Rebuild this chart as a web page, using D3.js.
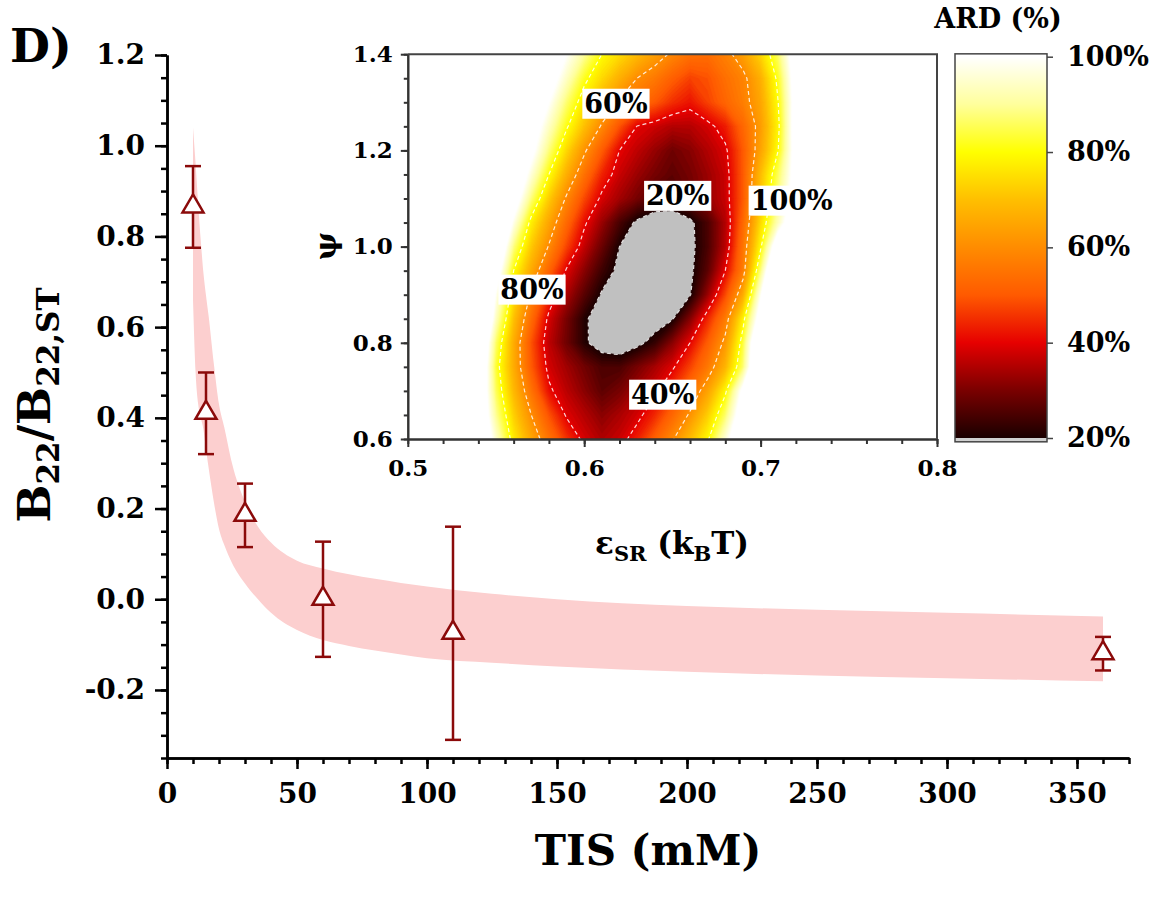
<!DOCTYPE html>
<html><head><meta charset="utf-8">
<script src="https://cdn.jsdelivr.net/npm/d3@7"></script>
<style>
body{margin:0;background:#fff}
svg text{font-family:"DejaVu Serif",serif;font-weight:bold;fill:#000}
</style>
</head><body>
<svg id="c" width="1165" height="901"></svg>
<script>
// ---------------- main panel data ----------------
const tisX   = [10, 15, 30, 60, 110, 360];
const b22    = [0.865, 0.41, 0.185, 0.0, -0.075, -0.12];
const b22Err = [0.09, 0.09, 0.07, 0.127, 0.235, 0.037];

const bandX     = [10,11,12,13,14,15,16,18,20,22,25,30,35,40,50,60,70,80,90,100,125,150,200,250,300,360];
const bandUpper = [1.04,0.96,0.87,0.79,0.72,0.67,0.625,0.52,0.43,0.38,0.30,0.215,0.16,0.125,0.085,0.068,0.055,0.045,0.036,0.028,0.012,0.0,-0.015,-0.023,-0.030,-0.038];
const bandLower = [0.66,0.50,0.43,0.40,0.375,0.33,0.29,0.215,0.155,0.12,0.08,0.035,0.0,-0.03,-0.068,-0.09,-0.103,-0.113,-0.122,-0.13,-0.14,-0.148,-0.16,-0.168,-0.174,-0.181];

const xTicks = [0,50,100,150,200,250,300,350];
const yTicks = [-0.2,0.0,0.2,0.4,0.6,0.8,1.0,1.2];

// ---------------- inset (ARD map) data ----------------
const epsGrid = [0.50,0.51,0.52,0.53,0.54,0.55,0.56,0.57,0.58,0.59,0.60,0.61,0.62,0.63,0.64,0.65,0.66,0.67,0.68,0.69,0.70,0.71,0.72,0.73,0.74,0.75,0.76,0.77,0.78,0.79,0.80];
const psiGrid = [1.40,1.35,1.30,1.25,1.20,1.15,1.10,1.05,1.00,0.95,0.90,0.85,0.80,0.75,0.70,0.65,0.60];
const ardGrid = [
 [150,150,150,150,150,140,130,120,110,100,90,80,74.6,69.2,63.8,58.7,54.5,53.6,57.6,63.8,73.3,86.3,107.4,128,150,150,150,150,150,150,150],
 [150,150,150,150,150,141,129,118,106,94,82,74,67,60,56,51,47,49,54,58,67,82,106,129,150,150,150,150,150,150,150],
 [150,150,150,150,150,137,125,112,100,87,76,67,59,54,50,45,42,47,52,57,65,80,105,130,150,150,150,150,150,150,150],
 [150,150,150,150,146,133,120,107,94,81,70,59,49,39.8,37.5,35.2,35.4,38.1,42.9,52.4,63.1,78.5,105.7,134,150,150,150,150,150,150,150],
 [150,150,150,150,149,134,118.5,103,87.7,73.8,61.3,50.5,40,36.3,32.5,28.8,31.1,35,38.8,50,64.6,80,105,130,150,150,150,150,150,150,150],
 [150,150,150,150,144,128,112,96,80,66.7,54.6,43.8,37.2,33,29.5,27,29.5,33,37.3,50,69.2,85.7,104.8,123.8,142.9,150,150,150,150,150,150],
 [150,150,150,150,144.8,125.7,106.7,87.6,72,58.9,47.8,38.5,33.7,29.5,25.5,24.5,28,32.4,37.1,50,70.9,88.7,106.1,123.5,140.9,150,150,150,150,150,150],
 [150,150,150,150,142,120,97.8,77.5,65,52.9,41.2,32.8,24.8,18.7,15.6,15.5,18.5,25,35,52.5,74,93.1,111.8,130.5,149,150,150,150,150,150,150],
 [150,150,150,150,141,114.7,88,71.5,59.4,47.3,36.7,28.3,20,16.5,13,14.5,18,24.9,35.7,55,78.8,109.2,140,150,150,150,150,150,150,150,150],
 [150,150,150,150,133,106.7,80,65.7,52,39.2,31.4,23.6,18.3,15.2,12,15.2,18.4,26.7,40,56.7,87.3,123.6,150,150,150,150,150,150,150,150,150],
 [150,150,150,150,125.3,98.7,75,58.6,44.3,34.4,26.4,19.3,16,12.7,12.7,16.1,19.5,32.6,47.7,65.7,98.2,134.5,150,150,150,150,150,150,150,150,150],
 [150,150,150,150,126.7,93.3,70,53.3,38.3,29.6,20.9,17,13.7,13.5,16.4,19.4,30.7,43.8,56.3,77.5,105.7,134,150,150,150,150,150,150,150,150,150],
 [150,150,150,148.7,117.5,86.3,66.2,48.8,36.2,28.7,21.1,16.5,15.1,18,22.6,31.3,40,50.5,62,83.4,117.9,150,150,150,150,150,150,150,150,150,150],
 [150,150,150,146.7,114.9,83.2,66.2,50,38.1,33.5,29,25,25,29.5,34,39,47,55.7,67.7,86.7,120,150,150,150,150,150,150,150,150,150,150],
 [150,150,150,140,112.9,85.5,68.6,54.7,41.3,35.9,31.4,26.9,29.6,34.1,38.6,45.8,54.2,64.3,78.6,102.5,127.5,150,150,150,150,150,150,150,150,150,150],
 [150,150,150,136.4,112.9,89.4,72.5,60,48.9,39.2,35.3,31.4,34.4,38.1,44.2,52.5,61.1,72.2,86.5,108,129.5,150,150,150,150,150,150,150,150,150,150],
 [150,150,150,136.8,115.8,94.7,76.6,65.1,54.8,45.4,38.4,34.7,37.4,43.2,51.2,59.2,69,79,95.7,113,130.4,147.8,150,150,150,150,150,150,150,150,150]
];
const contourLevels = [20, 40, 60, 80];
const contourLabels = ["60%", "20%", "100%", "80%", "40%"];
const labelEps      = [0.618, 0.653, 0.7176, 0.5704, 0.6445];
const labelPsi      = [1.2985, 1.107, 1.097, 0.912, 0.6936];

const insetXTicks = [0.5, 0.6, 0.7, 0.8];
const insetYTicks = [0.6, 0.8, 1.0, 1.2, 1.4];
const cbarTicks   = [20, 40, 60, 80, 100];
const cbarStopVals = [20, 30, 40, 50, 60, 70, 80, 90, 100];
const cbarStopCols = ["#1a0000","#7a0000","#e60000","#ff5a00","#ff8c00","#ffbf00","#ffff00","#ffff9c","#ffffff"];

// ---------------- drawing ----------------
const svg = d3.select("#c");
const darkRed = "#8b0a0a";

const x = d3.scaleLinear().domain([0, 370]).range([167, 1129]);
const y = d3.scaleLinear().domain([-0.35, 1.2]).range([758, 55]);

// band
const bandData = bandX.map((v, i) => ({x: v, u: bandUpper[i], l: bandLower[i]}));
svg.append("path").datum(bandData)
  .attr("d", d3.area().x(d => x(d.x)).y0(d => y(d.l)).y1(d => y(d.u)).curve(d3.curveMonotoneX))
  .attr("fill", "#fccfcf");

// axes main
function styleAxis(g, fs, sw, col) {
  g.attr("font-family", null).attr("font-size", fs);
  g.selectAll("text").style("font-size", fs + "px");
  g.select(".domain").attr("stroke-width", sw).attr("stroke", col);
  g.selectAll(".tick line").attr("stroke-width", sw).attr("stroke", col);
}
const minorY = d3.range(-7, 25).map(i => i * 0.05);
const minorX = d3.range(0, 38).map(i => i * 10);
svg.append("g").attr("transform", "translate(167,0)")
  .call(d3.axisLeft(y).tickValues(minorY).tickSize(6).tickSizeOuter(0).tickFormat(""))
  .call(g => styleAxis(g, 28, 2.5, "#000"));
svg.append("g").attr("transform", "translate(167,0)")
  .call(d3.axisLeft(y).tickValues(yTicks).tickSize(12).tickSizeOuter(0).tickPadding(10).tickFormat(d => d.toFixed(1)))
  .call(g => styleAxis(g, 28, 2.5, "#000"));
svg.append("g").attr("transform", "translate(0,758)")
  .call(d3.axisBottom(x).tickValues(minorX).tickSize(6).tickSizeOuter(0).tickFormat(""))
  .call(g => styleAxis(g, 28, 2.5, "#000"));
svg.append("g").attr("transform", "translate(0,758)")
  .call(d3.axisBottom(x).tickValues(xTicks).tickSize(11).tickSizeOuter(0).tickPadding(14).tickFormat(d => d))
  .call(g => styleAxis(g, 28, 2.5, "#000"));

// error bars + triangles
const pts = tisX.map((v, i) => ({x: v, y: b22[i], e: b22Err[i]}));
const eb = svg.append("g").attr("stroke", darkRed).attr("stroke-width", 2.5);
eb.selectAll("line.v").data(pts).join("line").attr("class", "v")
  .attr("x1", d => x(d.x)).attr("x2", d => x(d.x))
  .attr("y1", d => y(d.y + d.e)).attr("y2", d => y(d.y - d.e));
eb.selectAll("line.t").data(pts).join("line").attr("class", "t")
  .attr("x1", d => x(d.x) - 8).attr("x2", d => x(d.x) + 8)
  .attr("y1", d => y(d.y + d.e)).attr("y2", d => y(d.y + d.e));
eb.selectAll("line.b").data(pts).join("line").attr("class", "b")
  .attr("x1", d => x(d.x) - 8).attr("x2", d => x(d.x) + 8)
  .attr("y1", d => y(d.y - d.e)).attr("y2", d => y(d.y - d.e));
svg.append("g").selectAll("path").data(pts).join("path")
  .attr("d", "M0,-12.5L10.5,5.5L-10.5,5.5Z")
  .attr("transform", d => `translate(${x(d.x)},${y(d.y)})`)
  .attr("fill", "#fff").attr("stroke", darkRed).attr("stroke-width", 2.5).attr("stroke-linejoin", "miter");

// titles main
svg.append("text").attr("x", 10).attr("y", 62).style("font-size", "46px").text("D)");
svg.append("text").attr("x", 648).attr("y", 865).attr("text-anchor", "middle").style("font-size", "42px").text("TIS (mM)");
const yt = svg.append("text").attr("transform", "translate(50,405) rotate(-90)").attr("text-anchor", "middle");
yt.append("tspan").style("font-size", "45px").text("B");
yt.append("tspan").style("font-size", "31px").attr("dy", 9).text("22");
yt.append("tspan").style("font-size", "45px").attr("dy", -9).text("/B");
yt.append("tspan").style("font-size", "31px").attr("dy", 9).text("22,ST");

// ---------------- inset ----------------
const ex = d3.scaleLinear().domain([0.5, 0.8]).range([407.8, 937]);
const ey = d3.scaleLinear().domain([0.6, 1.4]).range([439, 54.2]);
const cval = d3.scaleLinear().domain(cbarStopVals).range(cbarStopCols).clamp(true);

const defs = svg.append("defs");
defs.append("clipPath").attr("id", "clipInset").append("rect")
  .attr("x", ex(0.5)).attr("y", ey(1.4)).attr("width", ex(0.8) - ex(0.5)).attr("height", ey(0.6) - ey(1.4));
const ins = svg.append("g").attr("clip-path", "url(#clipInset)");
ins.append("rect").attr("x", ex(0.5)).attr("y", ey(1.4)).attr("width", ex(0.8) - ex(0.5)).attr("height", ey(0.6) - ey(1.4)).attr("fill", "#c0c0c0");

const nx = epsGrid.length, ny = psiGrid.length;
const gx = d3.scaleLinear().domain([0.5, nx - 0.5]).range([epsGrid[0], epsGrid[nx - 1]]);
const gy = d3.scaleLinear().domain([0.5, ny - 0.5]).range([psiGrid[0], psiGrid[ny - 1]]);
const proj = d3.geoTransform({point(px, py) { this.stream.point(ex(gx(px)), ey(gy(py))); }});
const gpath = d3.geoPath(proj);
const values = ardGrid.flat();
const fillThr = d3.range(20, 100, 1).concat([100]);
const fills = d3.contours().size([nx, ny]).thresholds(fillThr)(values);
ins.selectAll("path.f").data(fills).join("path").attr("class", "f")
  .attr("d", gpath)
  .attr("fill", d => d.value >= 100 ? "#fff" : cval(d.value + 0.5))
  .attr("stroke", d => d.value >= 100 ? "#fff" : cval(d.value + 0.5)).attr("stroke-width", 0.6);
const lines = d3.contours().size([nx, ny]).thresholds(contourLevels)(values);
ins.selectAll("path.l").data(lines).join("path").attr("class", "l")
  .attr("d", gpath).attr("fill", "none")
  .attr("stroke", "#fff").attr("stroke-opacity", 0.85).attr("stroke-width", 1.2).attr("stroke-dasharray", "4 3");

// contour labels
const lab = svg.append("g");
contourLabels.forEach((t, i) => {
  const g = lab.append("g");
  const tx = g.append("text").attr("x", ex(labelEps[i])).attr("y", ey(labelPsi[i]))
    .attr("text-anchor", "middle").attr("dy", "0.36em").style("font-size", "27px").text(t);
  const bb = tx.node().getBBox();
  g.insert("rect", "text").attr("x", bb.x - 2).attr("y", bb.y + 1).attr("width", bb.width + 4).attr("height", bb.height - 1).attr("fill", "#fff");
});

// inset axes
const minorIY = d3.range(12, 29).map(i => i * 0.05);
const minorIX = d3.range(25, 41).map(i => i * 0.02);
svg.append("g").attr("transform", `translate(${ex(0.5)},0)`)
  .call(d3.axisLeft(ey).tickValues(minorIY).tickSize(4).tickSizeOuter(0).tickFormat(""))
  .call(g => styleAxis(g, 23, 2, "#333"));
svg.append("g").attr("transform", `translate(${ex(0.5)},0)`)
  .call(d3.axisLeft(ey).tickValues(insetYTicks).tickSize(7).tickSizeOuter(0).tickPadding(8).tickFormat(d => d.toFixed(1)))
  .call(g => styleAxis(g, 23, 2, "#333"));
svg.append("g").attr("transform", `translate(0,${ey(0.6)})`)
  .call(d3.axisBottom(ex).tickValues(minorIX).tickSize(5).tickSizeOuter(0).tickFormat(""))
  .call(g => styleAxis(g, 23, 2, "#333"));
svg.append("g").attr("transform", `translate(0,${ey(0.6)})`)
  .call(d3.axisBottom(ex).tickValues(insetXTicks).tickSize(8).tickSizeOuter(0).tickPadding(13).tickFormat(d => d.toFixed(1)))
  .call(g => styleAxis(g, 23, 2, "#333"));
svg.append("path").attr("d", `M${ex(0.5)},${ey(1.4)}H${ex(0.8)}V${ey(0.6)}`).attr("fill", "none").attr("stroke", "#444").attr("stroke-width", 2);

// inset titles
svg.append("text").attr("transform", "translate(336,246) rotate(-90)").attr("text-anchor", "middle").style("font-size", "30px").text("ψ");
const xt = svg.append("text").attr("x", 672).attr("y", 554).attr("text-anchor", "middle");
xt.append("tspan").style("font-size", "31px").text("ε");
xt.append("tspan").style("font-size", "21px").attr("dy", 7).text("SR");
xt.append("tspan").style("font-size", "31px").attr("dy", -7).text(" (k");
xt.append("tspan").style("font-size", "21px").attr("dy", 7).text("B");
xt.append("tspan").style("font-size", "31px").attr("dy", -7).text("T)");

// ---------------- colour bar ----------------
const cy = d3.scaleLinear().domain([20, 100]).range([438, 56.7]);
const cbx0 = 955, cbx1 = 1047;
const grad = defs.append("linearGradient").attr("id", "cbarGrad")
  .attr("gradientUnits", "userSpaceOnUse").attr("x1", 0).attr("x2", 0).attr("y1", cy(20)).attr("y2", cy(100));
cbarStopVals.forEach((v, i) => grad.append("stop").attr("offset", (v - 20) / 80).attr("stop-color", cbarStopCols[i]));
svg.append("rect").attr("x", cbx0).attr("y", cy(20)).attr("width", cbx1 - cbx0).attr("height", cy(19.2) - cy(20)).attr("fill", "#d0d0d0");
svg.append("rect").attr("x", cbx0).attr("y", cy(100.6)).attr("width", cbx1 - cbx0).attr("height", cy(20) - cy(100.6))
  .attr("fill", "url(#cbarGrad)");
svg.append("rect").attr("x", cbx0).attr("y", cy(100.6)).attr("width", cbx1 - cbx0).attr("height", cy(19.2) - cy(100.6))
  .attr("fill", "none").attr("stroke", "#444").attr("stroke-width", 1.5);
svg.append("g").attr("transform", `translate(${cbx1},0)`)
  .call(d3.axisRight(cy).tickValues(cbarTicks).tickSize(6).tickSizeOuter(0).tickPadding(14).tickFormat(d => d + "%"))
  .call(g => { styleAxis(g, 27, 1.5, "#444"); g.select(".domain").remove(); });
svg.append("text").attr("x", 998).attr("y", 28).attr("text-anchor", "middle").style("font-size", "27px").text("ARD (%)");
</script>
</body></html>
